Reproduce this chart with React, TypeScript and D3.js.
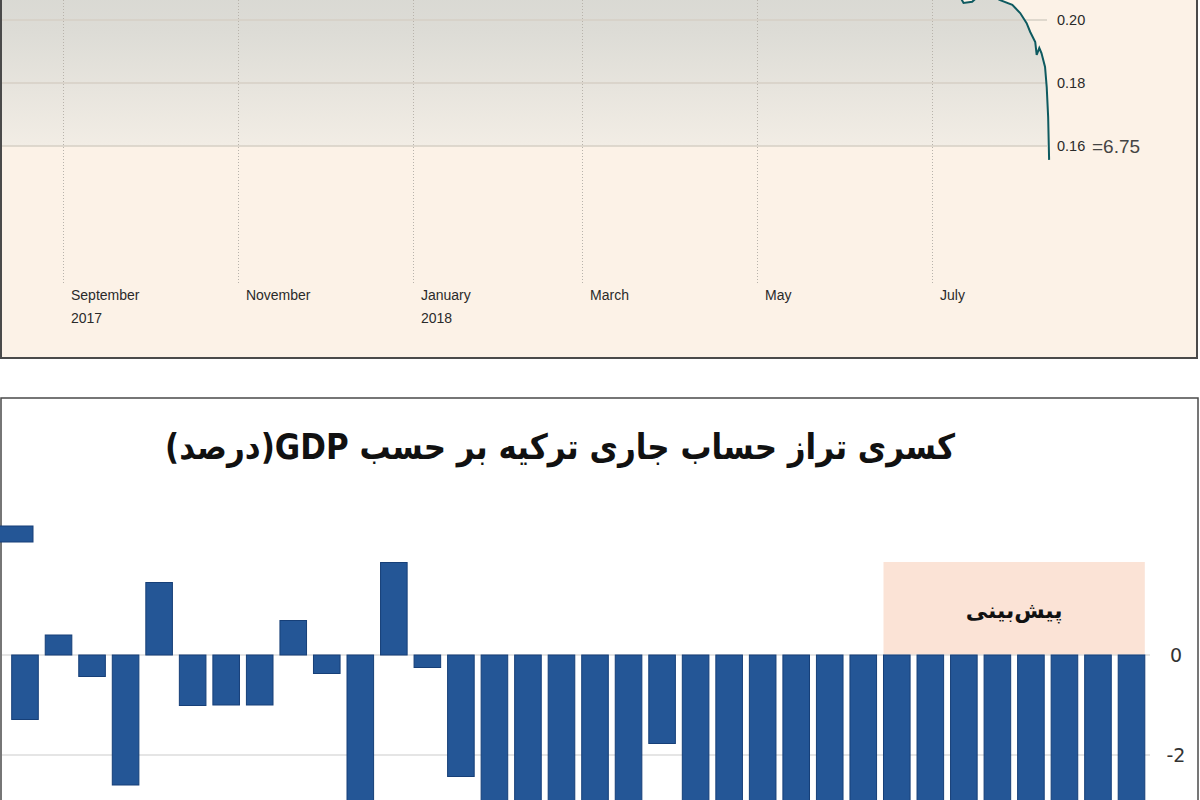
import React, { useEffect, useRef } from "react";
import * as d3 from "d3";

// ---------- Top panel: USD per TRY (line, cropped) ----------
const fxDates: string[] = [
  "2017-08-10", "2017-09-01", "2017-09-15", "2017-10-01", "2017-10-15", "2017-11-01",
  "2017-11-15", "2017-12-01", "2017-12-15", "2018-01-01", "2018-01-15", "2018-02-01",
  "2018-02-15", "2018-03-01", "2018-03-15", "2018-04-01", "2018-04-15", "2018-05-01",
  "2018-05-15", "2018-05-23", "2018-06-01", "2018-06-15", "2018-07-01", "2018-07-08",
  "2018-07-12", "2018-07-15", "2018-07-19", "2018-07-24T18:00", "2018-07-29", "2018-07-31T18:00",
  "2018-08-03", "2018-08-04T06:00", "2018-08-06", "2018-08-06T12:00", "2018-08-07T10:00",
  "2018-08-08T04:00", "2018-08-09T10:00", "2018-08-10", "2018-08-10T12:00", "2018-08-10T20:00",
];
const fxValues: number[] = [
  0.283, 0.289, 0.291, 0.281, 0.274, 0.262,
  0.255, 0.256, 0.259, 0.265, 0.263, 0.267,
  0.265, 0.262, 0.257, 0.252, 0.246, 0.242,
  0.229, 0.212, 0.222, 0.213, 0.218, 0.212,
  0.2054, 0.2058, 0.209, 0.2063, 0.2048, 0.2022,
  0.199, 0.1962, 0.193, 0.1889, 0.1911,
  0.1895, 0.1851, 0.1787, 0.1692, 0.1556,
];
const fxYTicks: number[] = [0.2, 0.18, 0.16];
const fxYTickLabels: string[] = ["0.20", "0.18", "0.16"];
const fxLastLabel = "=6.75";
const fxXTickDates: string[] = ["2017-09-01", "2017-11-01", "2018-01-01", "2018-03-01", "2018-05-01", "2018-07-01"];
const fxXTickLabels: string[] = ["September", "November", "January", "March", "May", "July"];
const fxXTickYears: string[] = ["2017", "", "2018", "", "", ""];

// ---------- Bottom panel: Turkey current account % GDP ----------
const caYears: string[] = [
  "1990", "1991", "1992", "1993", "1994", "1995", "1996", "1997", "1998", "1999",
  "2000", "2001", "2002", "2003", "2004", "2005", "2006", "2007", "2008", "2009",
  "2010", "2011", "2012", "2013", "2014", "2015", "2016", "2017", "2018", "2019",
  "2020", "2021", "2022", "2023",
];
const caValues: number[] = [
  -1.29, 0.4, -0.43, -2.6, 1.45, -1.01, -1.0, -1.0, 0.69, -0.37,
  -3.7, 1.85, -0.25, -2.43, -3.6, -4.4, -5.9, -5.5, -5.1, -1.77,
  -5.8, -8.9, -5.5, -6.7, -4.7, -3.7, -3.8, -5.5, -5.4, -4.5,
  -4.0, -3.8, -3.6, -3.5,
];
const caYTicks: number[] = [0, -2];
const caYTickLabels: string[] = ["0", "-2"];
const forecastStart = "2016";
const forecastTop = 1.86;
const forecastLabel = "پیش‌بینی";
const caTitle = "کسری تراز حساب جاری ترکیه بر حسب GDP(درصد)";

const W = 1200;
const H = 800;

export default function App() {
  const ref = useRef<SVGSVGElement | null>(null);

  useEffect(() => {
    document.body.style.margin = "0";
    const svg = d3.select(ref.current);
    svg.selectAll("*").remove();

    const defs = svg.append("defs");
    const grad = defs
      .append("linearGradient")
      .attr("id", "fxGrad")
      .attr("gradientUnits", "userSpaceOnUse")
      .attr("x1", 0).attr("x2", 0).attr("y1", -60).attr("y2", 146);
    grad.append("stop").attr("offset", "0").attr("stop-color", "#d4d4cf");
    grad.append("stop").attr("offset", "0.45").attr("stop-color", "#dddcd6");
    grad.append("stop").attr("offset", "1").attr("stop-color", "#f2ede5");

    defs.append("clipPath").attr("id", "topClip")
      .append("rect").attr("x", 2).attr("y", 0).attr("width", 1194).attr("height", 356);

    // ----- top panel -----
    const top = svg.append("g");
    top.append("rect")
      .attr("x", 1).attr("y", -20).attr("width", 1196).attr("height", 378)
      .attr("fill", "#fcf2e7").attr("stroke", "#4a4a4a").attr("stroke-width", 2);

    const parse = (s: string) => new Date(s);
    const fx = fxDates.map((d, i) => ({ date: parse(d), v: fxValues[i] }));
    const xT = d3.scaleTime()
      .domain([parse("2017-09-01"), parse("2018-07-01")])
      .range([63, 932]);
    const yT = d3.scaleLinear().domain([0.16, 0.2]).range([146, 20]);

    const plot = top.append("g").attr("clip-path", "url(#topClip)");
    const area = d3.area<{ date: Date; v: number }>()
      .x((d) => xT(d.date))
      .y0(yT(0.16))
      .y1((d) => yT(d.v));
    plot.append("path").datum(fx).attr("d", area as any).attr("fill", "url(#fxGrad)");

    fxYTicks.forEach((t) => {
      plot.append("line")
        .attr("x1", 2).attr("x2", 1047)
        .attr("y1", yT(t)).attr("y2", yT(t))
        .attr("stroke", "#d6cfc5").attr("stroke-width", 1.5);
    });
    fxXTickDates.forEach((d) => {
      const xx = Math.round(xT(parse(d))) + 0.5;
      plot.append("line")
        .attr("x1", xx).attr("x2", xx).attr("y1", 0).attr("y2", 283)
        .attr("stroke", "#b8b3ab").attr("stroke-width", 1).attr("stroke-dasharray", "1,2");
    });

    const line = d3.line<{ date: Date; v: number }>()
      .x((d) => xT(d.date))
      .y((d) => yT(d.v));
    plot.append("path").datum(fx).attr("d", line as any)
      .attr("fill", "none").attr("stroke", "#0e5a60").attr("stroke-width", 2);

    fxXTickDates.forEach((d, i) => {
      const xx = xT(parse(d)) + 8;
      top.append("text").attr("x", xx).attr("y", 300)
        .attr("font-family", "Liberation Sans, Arial, sans-serif").attr("font-size", 14)
        .attr("fill", "#2a2a2a").text(fxXTickLabels[i]);
      if (fxXTickYears[i]) {
        top.append("text").attr("x", xx).attr("y", 323)
          .attr("font-family", "Liberation Sans, Arial, sans-serif").attr("font-size", 14)
          .attr("fill", "#2a2a2a").text(fxXTickYears[i]);
      }
    });
    fxYTicks.forEach((t, i) => {
      top.append("text").attr("x", 1057).attr("y", yT(t) + 5)
        .attr("font-family", "Liberation Sans, Arial, sans-serif").attr("font-size", 14.5)
        .attr("fill", "#2a2a2a").text(fxYTickLabels[i]);
    });
    top.append("text").attr("x", 1092).attr("y", yT(0.16) + 7)
      .attr("font-family", "Liberation Sans, Arial, sans-serif").attr("font-size", 19)
      .attr("fill", "#444").text(fxLastLabel);

    // ----- bottom panel -----
    const bot = svg.append("g");
    bot.append("rect")
      .attr("x", 1).attr("y", 398).attr("width", 1197).attr("height", 420)
      .attr("fill", "#ffffff").attr("stroke", "#4a4a4a").attr("stroke-width", 1.5);

    bot.append("text")
      .attr("x", 560).attr("y", 459)
      .attr("text-anchor", "middle").attr("direction", "rtl")
      .attr("font-family", "DejaVu Sans, sans-serif").attr("font-weight", "bold")
      .attr("font-size", 35).attr("fill", "#111")
      .attr("textLength", 790).attr("lengthAdjust", "spacingAndGlyphs")
      .text(caTitle);

    const xB = d3.scaleBand<string>().domain(caYears).range([11.7, 1144.8])
      .paddingInner(0.207).paddingOuter(0);
    const yB = d3.scaleLinear().domain([0, -2]).range([655, 755]);

    const fx0 = xB(forecastStart) as number;
    const fx1 = (xB(caYears[caYears.length - 1]) as number) + xB.bandwidth();
    bot.append("rect")
      .attr("x", fx0).attr("y", yB(forecastTop))
      .attr("width", fx1 - fx0).attr("height", yB(0) - yB(forecastTop))
      .attr("fill", "#fbe3d6");
    bot.append("text")
      .attr("x", (fx0 + fx1) / 2).attr("y", yB(forecastTop) + 56)
      .attr("text-anchor", "middle").attr("direction", "rtl")
      .attr("font-family", "DejaVu Sans, sans-serif").attr("font-weight", "bold")
      .attr("font-size", 22).attr("fill", "#111")
      .text(forecastLabel);

    caYTicks.forEach((t) => {
      bot.append("line")
        .attr("x1", 2).attr("x2", 1150).attr("y1", yB(t)).attr("y2", yB(t))
        .attr("stroke", "#dcdcdc").attr("stroke-width", 1.5);
    });

    // legend swatch (cropped at left edge)
    bot.append("rect")
      .attr("x", -2).attr("y", 526).attr("width", 35).attr("height", 16)
      .attr("fill", "#245696").attr("stroke", "#163f78").attr("stroke-width", 1);

    bot.selectAll("rect.bar")
      .data(caYears)
      .enter()
      .append("rect")
      .attr("class", "bar")
      .attr("x", (d) => xB(d) as number)
      .attr("width", xB.bandwidth())
      .attr("y", (_d, i) => Math.min(yB(0), yB(caValues[i])))
      .attr("height", (_d, i) => Math.abs(yB(caValues[i]) - yB(0)))
      .attr("fill", "#245696")
      .attr("stroke", "#163f78")
      .attr("stroke-width", 1);

    caYTicks.forEach((t, i) => {
      bot.append("text")
        .attr("x", 1176).attr("y", yB(t) + 7)
        .attr("text-anchor", "middle")
        .attr("font-family", "DejaVu Sans, sans-serif").attr("font-size", 19)
        .attr("fill", "#333").text(caYTickLabels[i]);
    });
  }, []);

  return (
    <svg
      ref={ref}
      width={W}
      height={H}
      style={{ position: "absolute", left: 0, top: 0, display: "block", background: "#ffffff" }}
    />
  );
}
